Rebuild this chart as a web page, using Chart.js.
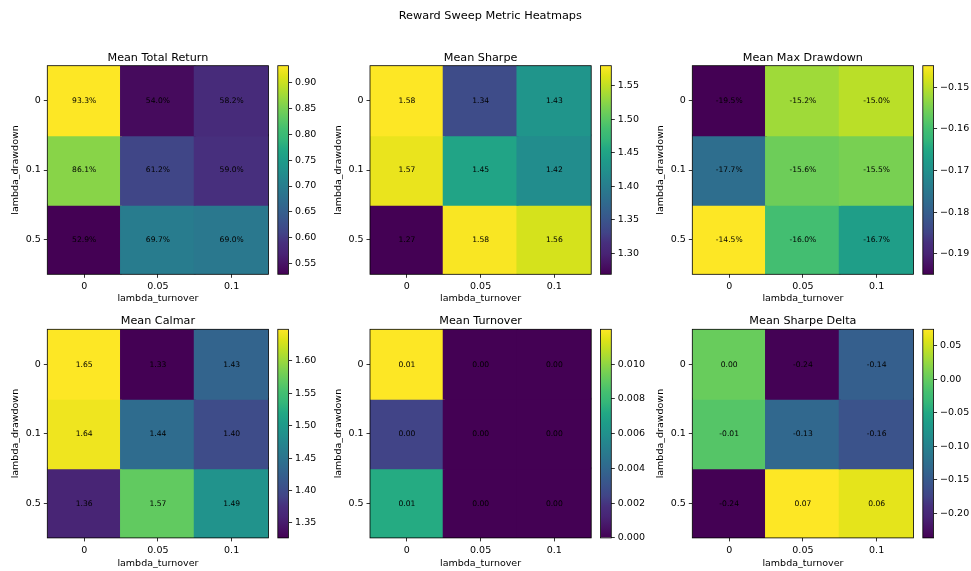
<!DOCTYPE html>
<html><head><meta charset="utf-8">
<script src="https://cdn.jsdelivr.net/npm/chart.js@4.4.1/dist/chart.umd.min.js"></script>
<style>
html,body{margin:0;padding:0;background:#fff;}
#wrap{position:relative;width:971px;height:571px;overflow:hidden;background:#fff;}
#wrap canvas{position:absolute;left:0;top:0;}
</style></head><body><div id="wrap"></div>
<script>
// ---------------- data ----------------
const suptitle = 'Reward Sweep Metric Heatmaps';
const xLabels = ['0', '0.05', '0.1'];          // lambda_turnover
const yLabels = ['0', '0.1', '0.5'];           // lambda_drawdown
const totalReturn = [[0.933, 0.540, 0.582], [0.861, 0.612, 0.590], [0.529, 0.697, 0.690]];
const sharpe      = [[1.580, 1.340, 1.430], [1.570, 1.450, 1.420], [1.269, 1.578, 1.560]];
const maxDrawdown = [[-0.1949, -0.152, -0.150], [-0.177, -0.156, -0.155], [-0.1448, -0.160, -0.167]];
const calmar      = [[1.6485, 1.327, 1.430], [1.641, 1.440, 1.400], [1.360, 1.570, 1.490]];
const turnover    = [[0.0120, 0.0, 0.0], [0.0024, 0.0, 0.0], [0.0073, 0.0, 0.0]];
const sharpeDelta = [[0.002, -0.236, -0.143], [-0.009, -0.133, -0.158], [-0.237, 0.0745, 0.062]];
const cbTicksReturn   = ['0.55', '0.60', '0.65', '0.70', '0.75', '0.80', '0.85', '0.90'];
const cbTicksSharpe   = ['1.30', '1.35', '1.40', '1.45', '1.50', '1.55'];
const cbTicksDrawdown = ['\u22120.19', '\u22120.18', '\u22120.17', '\u22120.16', '\u22120.15'];
const cbTicksCalmar   = ['1.35', '1.40', '1.45', '1.50', '1.55', '1.60'];
const cbTicksTurnover = ['0.000', '0.002', '0.004', '0.006', '0.008', '0.010'];
const cbTicksDelta    = ['\u22120.20', '\u22120.15', '\u22120.10', '\u22120.05', '0.00', '0.05'];

// ---------------- style / layout ----------------
const FAMILY = '"DejaVu Sans", "Liberation Sans", sans-serif';
const W = 971, H = 571;
const HL = [47.3, 370.0, 692.3], HT = [65.7, 329.3], HW = 221.2, HH = 208.6;
const XLBL = [30.0, 31.5];   // x-axis box height per row
const CBOFF = 230.5, CBW = 10.8;
const VIRIDIS = ['#440154','#471365','#482475','#472f7d','#414487','#3b528b','#355f8d','#2f6c8e',
  '#2a788e','#25848e','#21918c','#1e9c89','#22a884','#35b779','#44bf70','#5ec962','#7ad151',
  '#9bd93c','#bddf26','#dfe318','#fde725'];
function hex2rgb(h){return [parseInt(h.slice(1,3),16),parseInt(h.slice(3,5),16),parseInt(h.slice(5,7),16)];}
const VRGB = VIRIDIS.map(hex2rgb);
function viridis(t){
  t = Math.max(0, Math.min(1, t));
  const f = t * (VRGB.length - 1), i = Math.min(VRGB.length - 2, Math.floor(f)), u = f - i;
  const a = VRGB[i], b = VRGB[i + 1];
  return 'rgb(' + [0,1,2].map(k => Math.round(a[k] + (b[k] - a[k]) * u)).join(',') + ')';
}
const pct1 = v => (v * 100).toFixed(1) + '%';
const fix2 = v => v.toFixed(2);
const parseTick = s => parseFloat(s.replace('\u2212', '-'));

const panels = [
  {title: 'Mean Total Return', data: totalReturn, ticks: cbTicksReturn, fmt: pct1},
  {title: 'Mean Sharpe', data: sharpe, ticks: cbTicksSharpe, fmt: fix2},
  {title: 'Mean Max Drawdown', data: maxDrawdown, ticks: cbTicksDrawdown, fmt: pct1},
  {title: 'Mean Calmar', data: calmar, ticks: cbTicksCalmar, fmt: fix2},
  {title: 'Mean Turnover', data: turnover, ticks: cbTicksTurnover, fmt: fix2},
  {title: 'Mean Sharpe Delta', data: sharpeDelta, ticks: cbTicksDelta, fmt: fix2},
];

const wrap = document.getElementById('wrap');
function newCanvas(){
  const c = document.createElement('canvas');
  c.width = W; c.height = H; c.style.width = W + 'px'; c.style.height = H + 'px';
  wrap.appendChild(c); return c;
}
const tickFont = {family: FAMILY, size: 9.5};
const gridOpts = {display: true, drawOnChartArea: false, drawTicks: true, tickLength: 3.5, color: '#000', lineWidth: 0.8};

const framePlugin = {
  id: 'frame',
  afterDraw(chart){
    const ca = chart.chartArea, ctx = chart.ctx;
    ctx.save(); ctx.strokeStyle = '#000'; ctx.lineWidth = 0.8;
    ctx.strokeRect(ca.left, ca.top, ca.right - ca.left, ca.bottom - ca.top);
    ctx.restore();
  }
};

panels.forEach((p, idx) => {
  const col = idx % 3, row = Math.floor(idx / 3);
  const left = HL[col], top = HT[row];
  const flat = p.data.flat();
  const vmin = Math.min(...flat), vmax = Math.max(...flat);
  const yW = 37.1, xH = XLBL[row];

  const textPlugin = {
    id: 'cellText' + idx,
    afterDatasetsDraw(chart){
      const ctx = chart.ctx;
      ctx.save();
      ctx.fillStyle = '#000'; ctx.textAlign = 'center'; ctx.textBaseline = 'middle';
      ctx.font = '7.6px ' + FAMILY;
      p.data.forEach((rowVals, r) => {
        const meta = chart.getDatasetMeta(r);
        meta.data.forEach((el, c) => {
          const pr = el.getProps(['x', 'y', 'base'], true);
          ctx.fillText(p.fmt(rowVals[c]), pr.x, (pr.y + pr.base) / 2 + 0.5);
        });
      });
      ctx.restore();
    },
    afterDraw(chart){
      const ca = chart.chartArea, ctx = chart.ctx;
      ctx.save(); ctx.fillStyle = '#000'; ctx.textAlign = 'center'; ctx.textBaseline = 'alphabetic';
      ctx.font = '11.2px ' + FAMILY;
      ctx.fillText(p.title, (ca.left + ca.right) / 2, ca.top - 5);
      if (idx === 0) {
        ctx.font = '11.3px ' + FAMILY;
        ctx.fillText(suptitle, 490.3, 18.5);
      }
      ctx.restore();
    }
  };

  new Chart(newCanvas(), {
    type: 'bar',
    data: {
      labels: xLabels,
      datasets: p.data.map((rowVals, r) => ({
        data: rowVals.map(() => [r - 0.5, r + 0.5]),
        backgroundColor: rowVals.map(v => viridis((v - vmin) / (vmax - vmin || 1))),
        borderWidth: 0, barPercentage: 1, categoryPercentage: 1, grouped: false, inflateAmount: 1
      }))
    },
    options: {
      responsive: false, animation: false, devicePixelRatio: 1, events: [],
      layout: {padding: {left: left - yW, top: top, right: W - (left + HW), bottom: H - (top + HH) - xH}},
      plugins: {legend: {display: false}, tooltip: {enabled: false}, title: {display: false}},
      scales: {
        x: {
          type: 'category', offset: true,
          grid: Object.assign({offset: false}, gridOpts),
          border: {display: false},
          ticks: {color: '#000', font: tickFont, padding: 3, maxRotation: 0, autoSkip: false},
          title: {display: true, text: 'lambda_turnover', color: '#000', font: {family: FAMILY, size: 9.5, lineHeight: 1.2}, padding: 0},
          afterFit: s => { s.height = xH; }
        },
        y: {
          type: 'linear', reverse: true, min: -0.5, max: 2.5, beginAtZero: false,
          afterBuildTicks: s => { s.ticks = yLabels.map((_, i) => ({value: i})); },
          grid: gridOpts,
          border: {display: false},
          ticks: {color: '#000', font: tickFont, padding: 3, callback: v => yLabels[v]},
          title: {display: true, text: 'lambda_drawdown', color: '#000', font: {family: FAMILY, size: 9.5, lineHeight: 1.2}, padding: 0},
          afterFit: s => { s.width = yW; }
        }
      }
    },
    plugins: [textPlugin, framePlugin]
  });

  // colorbar
  const cbLeft = left + CBOFF, cbRight = cbLeft + CBW, cyW = 37;
  const tickVals = p.ticks.map(parseTick);
  new Chart(newCanvas(), {
    type: 'bar',
    data: {
      labels: ['cb'],
      datasets: [{
        data: [[vmin, vmax]],
        backgroundColor: (ctx) => {
          const ch = ctx.chart, ys = ch.scales && ch.scales.y;
          if (!ys) return VIRIDIS[0];
          const y0 = ys.getPixelForValue(vmin), y1 = ys.getPixelForValue(vmax);
          if (!isFinite(y0) || !isFinite(y1) || y0 === y1) return VIRIDIS[0];
          const g = ch.ctx.createLinearGradient(0, y0, 0, y1);
          VIRIDIS.forEach((c, i) => g.addColorStop(i / (VIRIDIS.length - 1), c));
          return g;
        },
        borderWidth: 0, barPercentage: 1, categoryPercentage: 1, inflateAmount: 0
      }]
    },
    options: {
      responsive: false, animation: false, devicePixelRatio: 1, events: [],
      layout: {padding: {left: cbLeft, top: top, right: Math.max(0, W - cbRight - cyW), bottom: H - (top + HH)}},
      plugins: {legend: {display: false}, tooltip: {enabled: false}, title: {display: false}},
      scales: {
        x: {display: false, offset: true},
        y: {
          type: 'linear', position: 'right', min: vmin, max: vmax, beginAtZero: false,
          afterBuildTicks: s => { s.ticks = tickVals.map(v => ({value: v})); },
          grid: gridOpts,
          border: {display: false},
          ticks: {color: '#000', font: tickFont, padding: 3, callback: (v, i) => p.ticks[i]},
          afterFit: s => { s.width = cyW; }
        }
      }
    },
    plugins: [framePlugin]
  });
});
</script>
</body></html>
